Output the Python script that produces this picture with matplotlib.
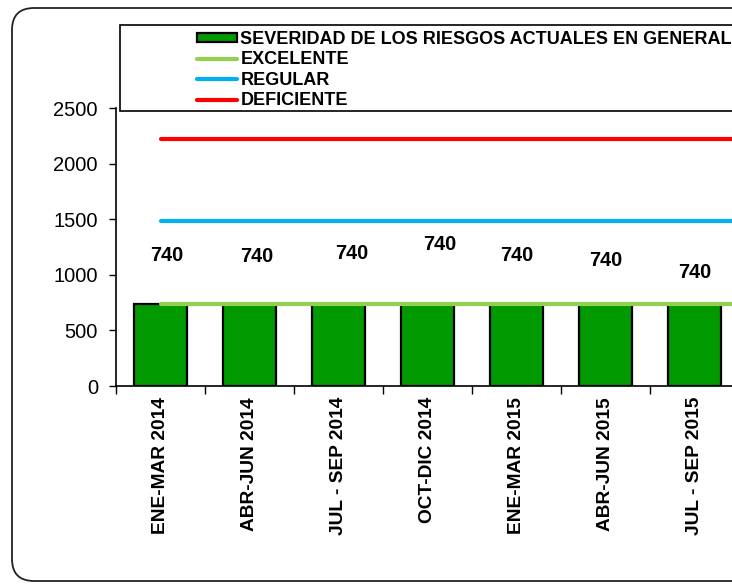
import matplotlib
matplotlib.use("Agg")
import matplotlib.pyplot as plt
from matplotlib.patches import FancyBboxPatch, Rectangle, Patch
from matplotlib.lines import Line2D

plt.rcParams["font.family"] = ["Liberation Sans", "DejaVu Sans"]

# ── data ──────────────────────────────────────────────────────────────────────
categories = [
    "ENE-MAR 2014", "ABR-JUN 2014", "JUL - SEP 2014", "OCT-DIC 2014",
    "ENE-MAR 2015", "ABR-JUN 2015", "JUL - SEP 2015", "OCT-DIC 2015",
]
severidad = [740, 740, 740, 740, 740, 740, 740, 740]
excelente = [740, 740, 740, 740, 740, 740, 740, 740]
regular = [1480, 1480, 1480, 1480, 1480, 1480, 1480, 1480]
deficiente = [2220, 2220, 2220, 2220, 2220, 2220, 2220, 2220]
yticks = [0, 500, 1000, 1500, 2000, 2500]

# data-label placement (as dragged in the original chart)
label_dx = [0.07, 0.08, 0.15, 0.14, 0.0, 0.0, 0.0, 0.0]
label_y = [1173, 1169, 1196, 1268, 1178, 1133, 1025, 1100]

W, H = 732, 584
fig = plt.figure(figsize=(W / 100, H / 100), dpi=100)

# outer rounded frame (continues past the right edge, as in the source)
fig.patches.append(FancyBboxPatch((12, 3), 820, 573, boxstyle="round,pad=0,rounding_size=22",
                                  transform=None, facecolor="none", edgecolor="#222222",
                                  linewidth=1.3))

# axes: 89 px per category, left spine at x=116, 0 at y=386, 2500 at y=108
n = len(categories)
ax = fig.add_axes([116 / W, (H - 386) / H, 89 * n / W, 278 / H])
x = list(range(n))

ax.bar(x, severidad, width=0.6, color="#009900", edgecolor="black", linewidth=1.6, zorder=2)
ax.plot(x, excelente, color="#92D050", linewidth=3, solid_capstyle="round", zorder=3)
ax.plot(x, regular, color="#00B0F0", linewidth=3, solid_capstyle="round", zorder=3)
ax.plot(x, deficiente, color="#FF0000", linewidth=3, solid_capstyle="round", zorder=3)

for i, v in enumerate(severidad):
    ax.text(i + label_dx[i], label_y[i], f"{v}", ha="center", va="center",
            fontsize=14.3, fontweight="bold", zorder=4)

ax.set_xlim(-0.5, n - 0.5)
ax.set_ylim(0, 2500)
ax.set_yticks(yticks)
ax.tick_params(axis="y", direction="out", length=5, width=1, pad=8, labelsize=14.5)

ax.set_xticks(x)
ax.set_xticklabels(categories, rotation=90, fontsize=13.8, fontweight="bold", va="top")
ax.set_xticks([i - 0.5 for i in range(n + 1)], minor=True)
ax.tick_params(axis="x", which="major", length=0, pad=8)
ax.tick_params(axis="x", which="minor", direction="out", length=6, width=1)

for s in ("top", "right"):
    ax.spines[s].set_visible(False)
for s in ("left", "bottom"):
    ax.spines[s].set_linewidth(1.2)

# legend box
fig.patches.append(Rectangle((120, H - 111), 800, 86, transform=None,
                             facecolor="white", edgecolor="black", linewidth=1.2, zorder=5))
handles = [
    Patch(facecolor="#009900", edgecolor="black", linewidth=1.6),
    Line2D([], [], color="#92D050", linewidth=3, solid_capstyle="round"),
    Line2D([], [], color="#00B0F0", linewidth=3, solid_capstyle="round"),
    Line2D([], [], color="#FF0000", linewidth=3, solid_capstyle="round"),
]
labels = ["SEVERIDAD DE LOS RIESGOS ACTUALES EN GENERAL", "EXCELENTE", "REGULAR", "DEFICIENTE"]
leg = fig.legend(handles, labels, loc="upper left", bbox_to_anchor=(197 / W, 1 - 31 / H),
                 frameon=False, borderpad=0, borderaxespad=0, handlelength=2.2,
                 handleheight=0.4, handletextpad=0.2, labelspacing=0.19,
                 prop={"size": 13, "weight": "bold"})
leg.set_zorder(6)

fig.savefig("out.png", dpi=100)
